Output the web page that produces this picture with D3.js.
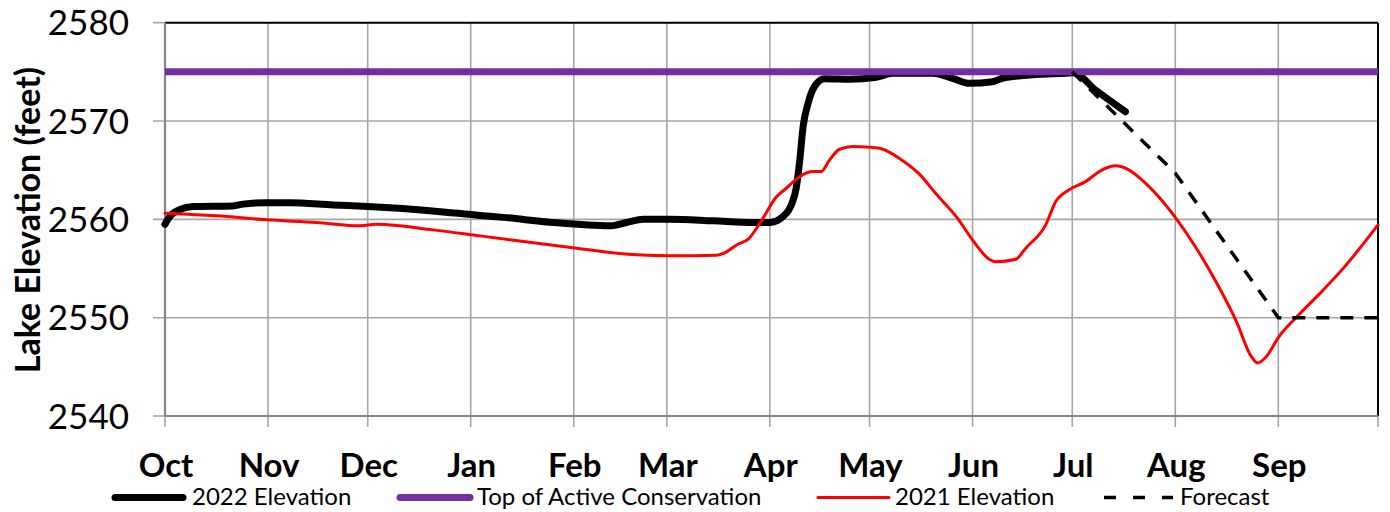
<!DOCTYPE html>
<html>
<head>
<meta charset="utf-8">
<script src="https://cdn.jsdelivr.net/npm/d3@7"></script>
<style>
  html, body { margin: 0; padding: 0; background: #fff; }
  svg { display: block; font-family: Lato, "Open Sans", sans-serif; }
</style>
</head>
<body>
<svg id="chart" width="1390" height="512"></svg>
<script>
// ---- Data (water year Oct 1 2021 – Sep 30 2022; day = days since Oct 1) ----
const waterYearStart = "2021-10-01";
const waterYearEnd = "2022-10-01";
const monthLabels = ["Oct","Nov","Dec","Jan","Feb","Mar","Apr","May","Jun","Jul","Aug","Sep"];
const yTicks = [2540, 2550, 2560, 2570, 2580];

const elev2022Days = [0,1.5,4.5,8.5,20.5,23.5,30.5,37.5,50.5,61,80.5,94.8,101.8,115.9,133.9,138.9,143.9,152,165,177,182,186,188.5,190,191,192,193.5,195.6,198.5,206,214,219,231,237,242,249,252,261,271,273.3,280,289];
const elev2022Vals = [2559.5,2560.3,2561.0,2561.3,2561.37,2561.55,2561.7,2561.7,2561.47,2561.3,2560.86,2560.4,2560.2,2559.71,2559.34,2559.68,2560.02,2560.02,2559.85,2559.68,2559.68,2560.3,2561.5,2563.3,2566.0,2569.4,2571.8,2573.6,2574.3,2574.25,2574.45,2574.86,2574.86,2574.35,2573.84,2574.0,2574.35,2574.7,2574.86,2574.9,2573.16,2570.95];

const elev2021Days = [0,15.5,30.6,45.6,58.7,63.7,80.7,94.8,123.9,141.9,152,166,169,172,175.5,179,184,187,189,191,195,197.4,200,203,207,212,216,221,227,232,238.5,243,248,250,256,259,265,268,272,277,282,286,290,294,299,304,310,316.5,322.6,326.6,328.8,331,335.6,340.6,347.6,354.6,365];
const elev2021Vals = [2560.63,2560.36,2559.95,2559.68,2559.34,2559.5,2558.93,2558.32,2557.07,2556.39,2556.3,2556.36,2556.7,2557.4,2557.98,2559.6,2562.3,2563.17,2563.8,2564.35,2564.86,2564.86,2566.05,2567.13,2567.4,2567.33,2567.13,2566.2,2564.6,2562.6,2560.1,2557.9,2555.95,2555.7,2555.95,2557.07,2559.44,2561.8,2563.0,2563.84,2565.03,2565.44,2565.03,2564.0,2562.3,2560.2,2557.24,2553.5,2549.45,2546.2,2545.4,2545.9,2548.26,2550.1,2552.5,2555.04,2559.44];

const forecastDays = [273, 304, 335, 365];
const forecastVals = [2575, 2564.7, 2550, 2550];

const conservationDays = [0, 365];
const conservationVals = [2575, 2575];

const legendLabels = ["2022 Elevation", "Top of Active Conservation", "2021 Elevation", "Forecast"];

// ---- Setup ----
const W = 1390, H = 512;
const margin = {left: 165, right: 12, top: 22.7, bottom: 96};
const svg = d3.select("#chart");
const t0 = new Date(waterYearStart + "T00:00:00Z");
const t1 = new Date(waterYearEnd + "T00:00:00Z");
const dayToDate = d => new Date(t0.getTime() + d * 86400000);

const x = d3.scaleUtc().domain([t0, t1]).range([margin.left, W - margin.right]);
const y = d3.scaleLinear().domain([2540, 2580]).range([H - margin.bottom, margin.top]);

const months = d3.utcMonth.range(t0, t1);
const gridColor = "#a6a6a6";
const axisColor = "#868686";

// gridlines
svg.append("g").selectAll("line.vg").data(months.slice(1)).join("line")
  .attr("x1", d => x(d)).attr("x2", d => x(d))
  .attr("y1", y(2580)).attr("y2", y(2540) + 11)
  .attr("stroke", gridColor).attr("stroke-width", 1.6);
svg.append("g").selectAll("line.hg").data(yTicks.slice(1, -1)).join("line")
  .attr("x1", x.range()[0] - 12).attr("x2", x.range()[1])
  .attr("y1", d => y(d)).attr("y2", d => y(d))
  .attr("stroke", gridColor).attr("stroke-width", 1.6);

// y ticks (outside)
svg.append("g").selectAll("line").data([2540, 2580]).join("line")
  .attr("x1", x.range()[0] - 12).attr("x2", x.range()[0])
  .attr("y1", d => y(d)).attr("y2", d => y(d))
  .attr("stroke", gridColor).attr("stroke-width", 1.6);
// bottom tick at Oct and end
svg.append("g").selectAll("line").data([t0, t1]).join("line")
  .attr("x1", d => x(d)).attr("x2", d => x(d))
  .attr("y1", y(2540)).attr("y2", y(2540) + 11)
  .attr("stroke", gridColor).attr("stroke-width", 1.6);

// frame
svg.append("line").attr("x1", x.range()[0]).attr("x2", x.range()[1]).attr("y1", y(2580)).attr("y2", y(2580))
  .attr("stroke", "#000").attr("stroke-width", 2);
svg.append("line").attr("x1", x.range()[1]).attr("x2", x.range()[1]).attr("y1", y(2580)).attr("y2", y(2540))
  .attr("stroke", "#000").attr("stroke-width", 2);
svg.append("line").attr("x1", x.range()[0]).attr("x2", x.range()[1]).attr("y1", y(2540)).attr("y2", y(2540))
  .attr("stroke", axisColor).attr("stroke-width", 2.2);
svg.append("line").attr("x1", x.range()[0]).attr("x2", x.range()[0]).attr("y1", y(2580)).attr("y2", y(2540))
  .attr("stroke", axisColor).attr("stroke-width", 2.2);

// y tick labels
svg.append("g").selectAll("text").data(yTicks).join("text")
  .attr("x", 129).attr("y", d => y(d)).attr("dy", "0.36em")
  .attr("text-anchor", "end").attr("font-size", 35).attr("fill", "#000")
  .text(d => d);

// x month labels
svg.append("g").selectAll("text").data(months).join("text")
  .attr("x", d => x(d) + 1).attr("y", 477)
  .attr("text-anchor", "middle").attr("font-size", 33).attr("font-weight", 700).attr("fill", "#000")
  .text((d, i) => monthLabels[i]);

// y axis title
svg.append("text")
  .attr("transform", "translate(40,220) rotate(-90)")
  .attr("text-anchor", "middle").attr("font-size", 34).attr("font-weight", 700).attr("fill", "#000")
  .text("Lake Elevation (feet)");

// series
const line = d3.line().x(d => x(dayToDate(d[0]))).y(d => y(d[1])).curve(d3.curveMonotoneX);
const zip = (a, b) => a.map((v, i) => [v, b[i]]);
const plot = svg.append("g");

plot.append("path").datum(zip(elev2022Days, elev2022Vals)).attr("d", line)
  .attr("fill", "none").attr("stroke", "#000").attr("stroke-width", 7)
  .attr("stroke-linecap", "round").attr("stroke-linejoin", "round");
plot.append("path").datum(zip(conservationDays, conservationVals)).attr("d", line)
  .attr("fill", "none").attr("stroke", "#7030a0").attr("stroke-width", 7);
plot.append("path").datum(zip(elev2021Days, elev2021Vals)).attr("d", line)
  .attr("fill", "none").attr("stroke", "#ff0000").attr("stroke-width", 3)
  .attr("stroke-linecap", "round").attr("stroke-linejoin", "round");
plot.append("path").datum(zip(forecastDays, forecastVals)).attr("d", d3.line().x(d => x(dayToDate(d[0]))).y(d => y(d[1])))
  .attr("fill", "none").attr("stroke", "#000").attr("stroke-width", 3.5)
  .attr("stroke-dasharray", "13,11");

// legend
const legendItems = [
  {label: legendLabels[0], x1: 115, x2: 183, tx: 192, color: "#000", w: 7, dash: null},
  {label: legendLabels[1], x1: 400, x2: 470, tx: 477, color: "#7030a0", w: 7, dash: null},
  {label: legendLabels[2], x1: 818, x2: 889, tx: 895, color: "#ff0000", w: 3, dash: null},
  {label: legendLabels[3], x1: 1104, x2: 1173, tx: 1180, color: "#000", w: 3.5, dash: "12,17"}
];
const lg = svg.append("g").selectAll("g").data(legendItems).join("g");
lg.append("line").attr("x1", d => d.x1).attr("x2", d => d.x2).attr("y1", 497.5).attr("y2", 497.5)
  .attr("stroke", d => d.color).attr("stroke-width", d => d.w)
  .attr("stroke-linecap", d => d.dash ? "butt" : "round")
  .attr("stroke-dasharray", d => d.dash);
lg.append("text").attr("x", d => d.tx).attr("y", 505)
  .attr("font-size", 24).attr("fill", "#000").text(d => d.label);
</script>
</body>
</html>
